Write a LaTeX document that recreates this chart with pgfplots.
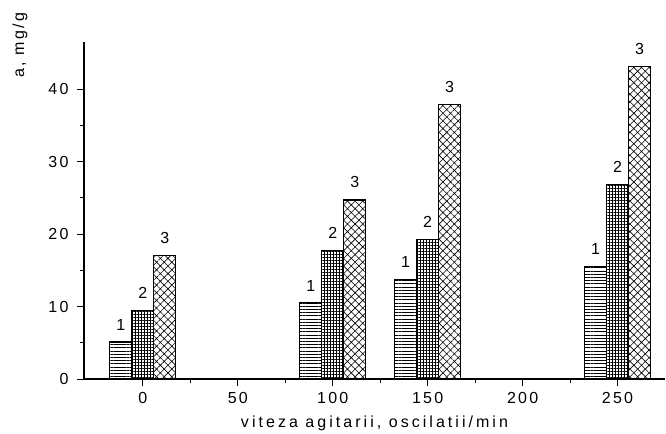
\documentclass[border=0pt]{standalone}
\usepackage{fontspec}
\setmainfont{Liberation Sans}[LetterSpace=14]
\newfontfamily\xlabfont{Liberation Sans}[LetterSpace=19]
\usepackage{pgfplots}
\pgfplotsset{compat=1.18}
\usetikzlibrary{patterns.meta}

\begin{document}
\fontsize{16bp}{19bp}\selectfont
\begin{tikzpicture}
  \begin{axis}[
      scale only axis,
      width=581bp, height=337bp,
      axis lines*=left,
      axis line style={line width=1.2bp},
      xmin=-31, xmax=275,
      ymin=0, ymax=46.5,
      xtick={0,50,...,250},
      ytick={0,10,...,40},
      minor tick num=1,
      tick align=outside,
      major tick length=7bp,
      minor tick length=4bp,
      tick style={black, line width=1bp},
      /pgf/number format/assume math mode=true,
      xticklabel style={yshift=-1bp},
      yticklabel style={xshift=-3bp},
      xlabel={viteza agitarii, oscilatii/min},
      ylabel={a, mg/g},
      every axis x label/.style={at={(axis description cs:0.5,0)}, anchor=center, yshift=-44bp, font=\xlabfont},
      every axis y label/.style={at={(axis description cs:0,1)}, anchor=center, xshift=-64bp, yshift=-3bp, rotate=90},
      ybar=0pt,
      bar width=11.6,
      every node near coord/.append style={anchor=south, yshift=6bp, black},
    ]
    % 1
    \addplot[draw=black, line width=1.1bp,
      pattern={Lines[angle=0, distance=3.2bp, line width=0.5bp]},
      nodes near coords={1}]
      coordinates {(0,5.1) (100,10.5) (150,13.7) (250,15.5)};
    % 2
    \addplot[draw=black, line width=1.1bp,
      pattern={Hatch[angle=0, distance=3bp, line width=0.5bp]},
      nodes near coords={2}]
      coordinates {(0,9.5) (100,17.75) (150,19.3) (250,26.8)};
    % 3
    \addplot[draw=black, line width=1.1bp,
      pattern={Hatch[angle=45, distance=5.4bp, line width=0.6bp]},
      nodes near coords={3}]
      coordinates {(0,17.0) (100,24.7) (150,37.9) (250,43.1)};
  \end{axis}
  \pgfresetboundingbox
  \path[use as bounding box] (current axis.south west) ++(-84bp,-55bp) rectangle ++(666bp,434bp);
\end{tikzpicture}
\end{document}
